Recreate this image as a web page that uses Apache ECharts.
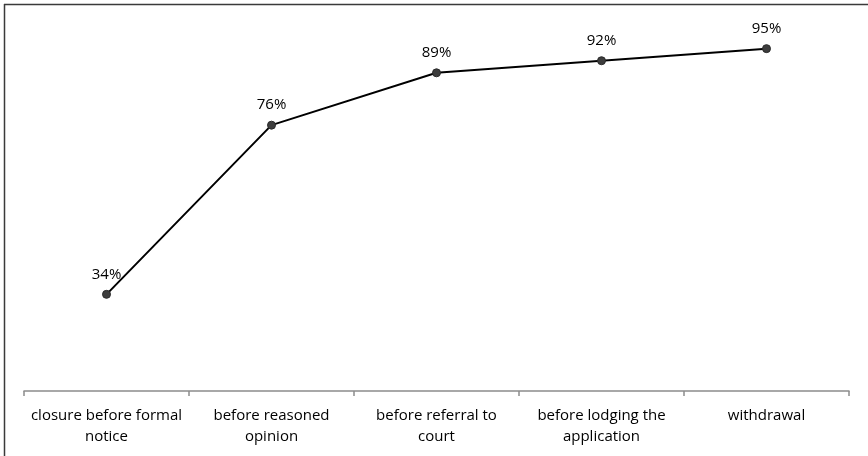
<!DOCTYPE html>
<html>
<head>
<meta charset="utf-8">
<script src="https://cdn.jsdelivr.net/npm/echarts@6/dist/echarts.min.js"></script>
<style>
  html, body { margin: 0; padding: 0; background: #fff; }
  #chart { width: 868px; height: 456px; }
</style>
</head>
<body>
<div id="chart"></div>
<script>
// Stages of infringement proceedings and the cumulative share of cases closed by each stage
const stages = [
  'closure before formal\nnotice',
  'before reasoned\nopinion',
  'before referral to\ncourt',
  'before lodging the\napplication',
  'withdrawal'
];
const cumulativeShare = [34, 76, 89, 92, 95];

const FONT = '"Open Sans", "Liberation Sans", sans-serif';

const chart = echarts.init(document.getElementById('chart'), null, { renderer: 'canvas' });

chart.setOption({
  animation: false,
  backgroundColor: '#ffffff',
  grid: { left: 24, right: 19, top: 28.5, bottom: 65, containLabel: false },
  xAxis: {
    type: 'category',
    data: stages,
    boundaryGap: true,
    axisLine: { show: true, lineStyle: { color: '#8c8c8c', width: 1.5 } },
    axisTick: { show: true, alignWithLabel: false, length: 5, lineStyle: { color: '#8c8c8c', width: 1.5 } },
    axisLabel: {
      interval: 0,
      color: '#000',
      fontFamily: FONT,
      fontSize: 15,
      lineHeight: 21,
      margin: 14
    }
  },
  yAxis: {
    type: 'value',
    min: 10,
    max: 100,
    show: false,
    splitLine: { show: false }
  },
  series: [{
    type: 'line',
    data: cumulativeShare,
    symbol: 'circle',
    symbolSize: 8,
    itemStyle: { color: '#3d3d3d', borderColor: '#2a2a2a', borderWidth: 1 },
    lineStyle: { color: '#000', width: 2 },
    label: {
      show: true,
      position: 'top',
      distance: 8,
      formatter: p => p.value + '%',
      color: '#000',
      fontFamily: FONT,
      fontSize: 15
    }
  }],
  graphic: [
    { type: 'line', shape: { x1: 4, y1: 4.5, x2: 868, y2: 4.5 }, style: { stroke: '#3a3a3a', lineWidth: 1.5 } },
    { type: 'line', shape: { x1: 4.5, y1: 4, x2: 4.5, y2: 456 }, style: { stroke: '#3a3a3a', lineWidth: 1.5 } }
  ]
});
</script>
</body>
</html>
